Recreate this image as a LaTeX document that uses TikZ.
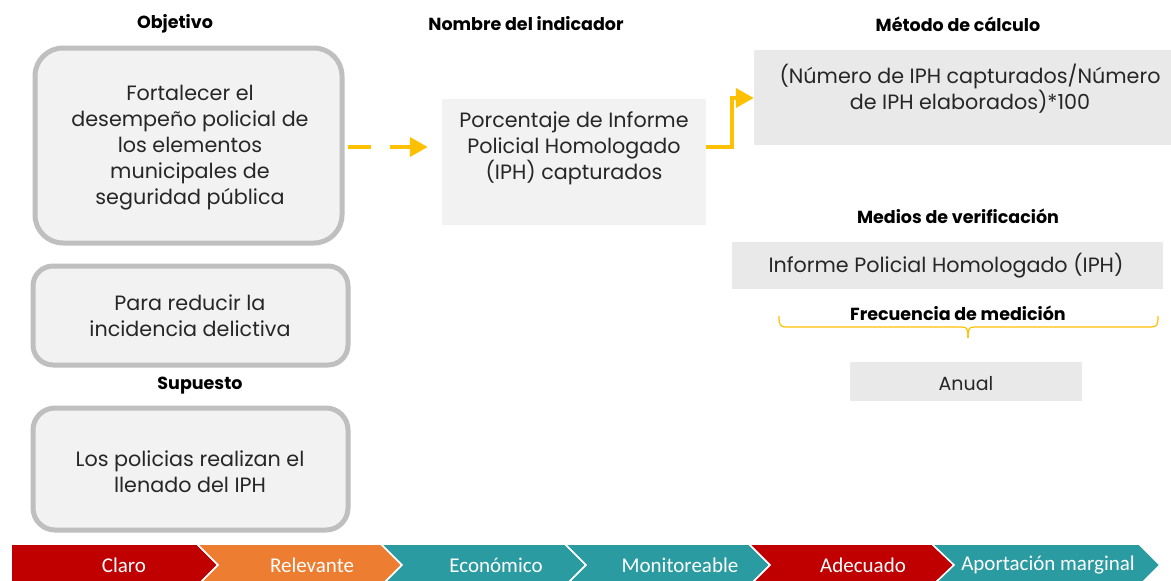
\documentclass[tikz,border=0pt]{standalone}
\usepackage{fontspec}
\setmainfont{Poppins}
\newfontfamily\chevfont{Carlito}
\usetikzlibrary{arrows.meta}
\definecolor{boxfill}{HTML}{F2F2F2}
\definecolor{boxline}{HTML}{BFBFBF}
\definecolor{greyfill}{HTML}{E9E9E9}
\definecolor{gold}{HTML}{FFC000}
\definecolor{txt}{HTML}{262626}
\definecolor{cred}{HTML}{C00000}
\definecolor{corange}{HTML}{ED7D31}
\definecolor{cteal}{HTML}{2A9BA1}
\tikzset{
  roundbox/.style={draw=boxline, line width=5pt, fill=boxfill, rounded corners=28pt, inner sep=0pt},
  flatbox/.style={fill=#1, draw=none, inner sep=0pt},
  title/.style={font=\fontsize{17.5}{20}\selectfont\bfseries, text=black, inner sep=0pt},
  body/.style={font=\fontsize{20.7}{26}\selectfont, text=txt, align=center, inner sep=0pt},
  chev/.style={fill=#1, draw=white, line width=1.5pt},
  chevtxt/.style={font=\chevfont\fontsize{21}{22}\selectfont, text=white, inner sep=0pt},
  arr/.style={draw=gold, line width=4pt, -{Triangle[length=18pt,width=19pt]}}
}
\begin{document}
\begin{tikzpicture}[x=1pt,y=-1pt]
\useasboundingbox (0,0) rectangle (1171,581);
% titles
\node[title] (tobj) at (175,24) {Objetivo};
\node[title] (tnom) at (526,24) {Nombre del indicador};
\node[title] (tmet) at (958,24) {Método de cálculo};
\node[title] (tmed) at (958,216) {Medios de verificación};
\node[title] (tfre) at (958,313) {Frecuencia de medición};
\node[title] (tsup) at (200,386) {Supuesto};
% left rounded boxes
\node[roundbox, minimum width=307pt, minimum height=195pt] (obj) at (188.5,145.5) {};
\node[body] (objt) at (190,148) {Fortalecer el\\desempeño policial de\\los elementos\\municipales de\\seguridad pública};
\node[roundbox, minimum width=315pt, minimum height=99pt, rounded corners=20pt] (fin) at (190.5,315.5) {};
\node[body] (fint) at (190,316) {Para reducir la\\incidencia delictiva};
\node[roundbox, minimum width=315pt, minimum height=122pt, rounded corners=22pt] (sup) at (190.5,469) {};
\node[body] (supt) at (190,472) {Los policias realizan el\\llenado del IPH};
% indicator
\node[flatbox=boxfill, minimum width=264pt, minimum height=126pt] (ind) at (574,162) {};
\node[body] (indt) at (574,148) {Porcentaje de Informe\\Policial Homologado\\(IPH) capturados};
% method
\node[flatbox=greyfill, minimum width=417pt, minimum height=95pt] (met) at (962.5,97.5) {};
\node[body] (mett) at (970,89) {(Número de IPH capturados/Número\\de IPH elaborados)*100};
% medios
\node[flatbox=greyfill, minimum width=431pt, minimum height=47pt] (med) at (947.5,265.5) {};
\node[body] (medt) at (946,266) {Informe Policial Homologado (IPH)};
% anual
\node[flatbox=greyfill, minimum width=232pt, minimum height=39pt] (anu) at (966,381.5) {};
\node[body, font=\fontsize{19}{22}\selectfont] (anut) at (966,384) {Anual};
% connectors
\coordinate (dstart) at (obj.east |- 0,147);
\coordinate (dend) at (ind.west |- 0,147);
\draw[arr, dash pattern=on 23pt off 19pt, shorten <=3pt, shorten >=14pt] (dstart) -- (dend);
\coordinate (estart) at (ind.east |- 0,147);
\coordinate (eend) at (met.west |- 0,98);
\draw[arr] (estart) -- (732,147) -- (732,98) -- (eend);
% brace
\draw[gold, line width=1.2pt, line join=round] (779,316) .. controls (779,325) and (780,327) .. (786,327) -- (962,327) .. controls (967,327) and (968,329) .. (968,338);
\draw[gold, line width=1.2pt, line join=round] (968,338) .. controls (968,329) and (969,327) .. (974,327) -- (1151,327) .. controls (1157,327) and (1158,325) .. (1158,316);
% chevrons
\path[chev=cred] (11,544) -- (197,544) -- (218,565) -- (197,586) -- (11,586) -- cycle;
\path[chev=corange] (197,544) -- (381,544) -- (402,565) -- (381,586) -- (197,586) -- (218,565) -- cycle;
\path[chev=cteal] (381,544) -- (565,544) -- (586,565) -- (565,586) -- (381,586) -- (402,565) -- cycle;
\path[chev=cteal] (565,544) -- (749,544) -- (770,565) -- (749,586) -- (565,586) -- (586,565) -- cycle;
\path[chev=cred] (749,544) -- (932,544) -- (954,565) -- (932,586) -- (749,586) -- (770,565) -- cycle;
\path[chev=cteal] (932,544) -- (1139,544) -- (1160,565) -- (1139,586) -- (932,586) -- (954,565) -- cycle;
\node[chevtxt] (c1) at (124,565) {Claro};
\node[chevtxt] (c2) at (312,565) {Relevante};
\node[chevtxt] (c3) at (496,565) {Económico};
\node[chevtxt] (c4) at (680,565) {Monitoreable};
\node[chevtxt] (c5) at (863,565) {Adecuado};
\node[chevtxt] (c6) at (1048,565) {Aportación marginal};
\end{tikzpicture}
\end{document}
